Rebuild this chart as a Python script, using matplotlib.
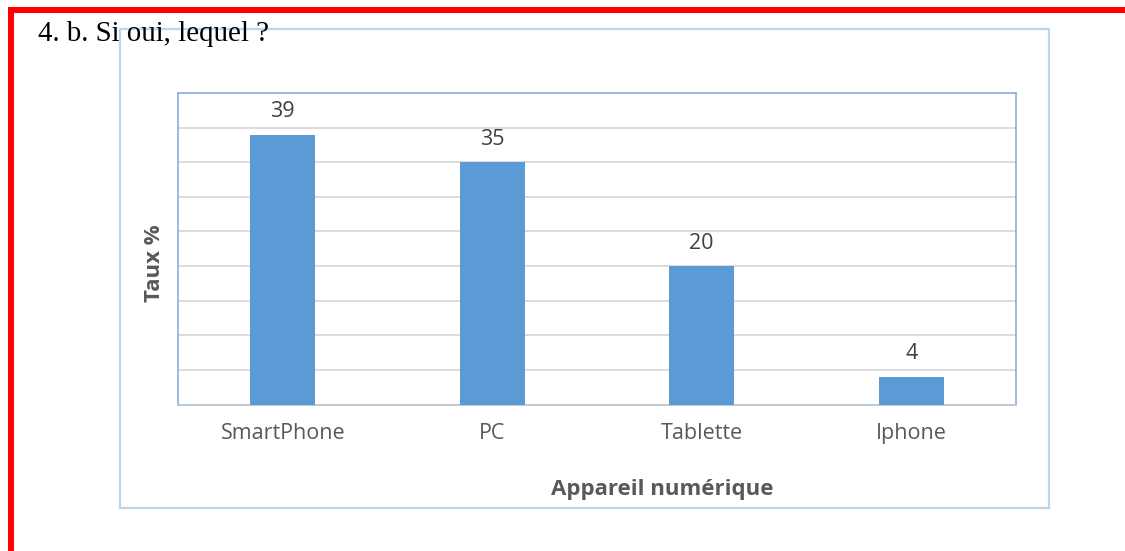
import matplotlib
matplotlib.use("Agg")
import matplotlib.pyplot as plt
from matplotlib.patches import Rectangle

# --- data ---
categories = ["SmartPhone", "PC", "Tablette", "Iphone"]
taux = [39, 35, 20, 4]
title = "4. b. Si oui, lequel ?"
xlabel = "Appareil numérique"
ylabel = "Taux %"

W, H = 1125, 551
fig = plt.figure(figsize=(W / 100, H / 100), dpi=100)

def px(x0, y0, x1, y1):
    # pixel box (top-left origin) -> figure fraction rect
    return [x0 / W, 1 - y1 / H, (x1 - x0) / W, (y1 - y0) / H]

# red page borders
fig.patches.append(Rectangle((8 / W, 1 - 12.7 / H), 1, 5.7 / H, transform=fig.transFigure,
                             facecolor="#ff0000", edgecolor="none", zorder=-2))
fig.patches.append(Rectangle((8 / W, 0), 5.7 / W, 1 - 7 / H, transform=fig.transFigure,
                             facecolor="#ff0000", edgecolor="none", zorder=-2))

# chart frame
r = px(120, 29, 1049, 508)
fig.patches.append(Rectangle((r[0], r[1]), r[2], r[3], transform=fig.transFigure,
                             facecolor="none", edgecolor="#bcd5ed", lw=1.6, zorder=-1))

ax = fig.add_axes(px(178, 93, 1016, 404.5))
ax.set_zorder(2)
ax.patch.set_alpha(0)
ax.bar(categories, taux, width=0.31, color="#5b9bd5", zorder=3)
ax.set_ylim(0, 45)
ax.set_xlim(-0.5, len(categories) - 0.5)
ax.set_yticks(range(0, 46, 5))
ax.set_yticklabels([])
ax.tick_params(axis="y", length=0)
ax.tick_params(axis="x", length=0, pad=13, labelsize=15.5, labelcolor="#595959")
for lbl in ax.get_xticklabels():
    lbl.set_fontfamily("Open Sans")
ax.grid(axis="y", color="#d9d9d9", lw=1.3, zorder=0)

for s in ["left", "top", "right"]:
    ax.spines[s].set_color("#7aaadc")
    ax.spines[s].set_linestyle((0, (1, 1)))
    ax.spines[s].set_linewidth(1.1)
ax.spines["bottom"].set_color("#bfc6cf")
ax.spines["bottom"].set_linestyle((0, (1, 1)))
ax.spines["bottom"].set_linewidth(1.3)

for i, v in enumerate(taux):
    ax.annotate(str(v), (i, v), xytext=(0, 9), textcoords="offset points",
                ha="center", va="bottom", fontsize=15.5, color="#404040",
                family="Open Sans")

fig.text(662 / W, 1 - 489 / H, xlabel, ha="center", va="center", fontsize=16,
         fontweight="bold", color="#595959", family="Open Sans")
fig.text(155 / W, 1 - 263 / H, ylabel, ha="center", va="center", rotation=90,
         fontsize=16, fontweight="bold", color="#595959", family="Open Sans")

fig.text(38 / W, 1 - 41 / H, title, ha="left", va="baseline", fontsize=20.8,
         color="black", family="Liberation Serif")

fig.savefig("out.png", dpi=100)
